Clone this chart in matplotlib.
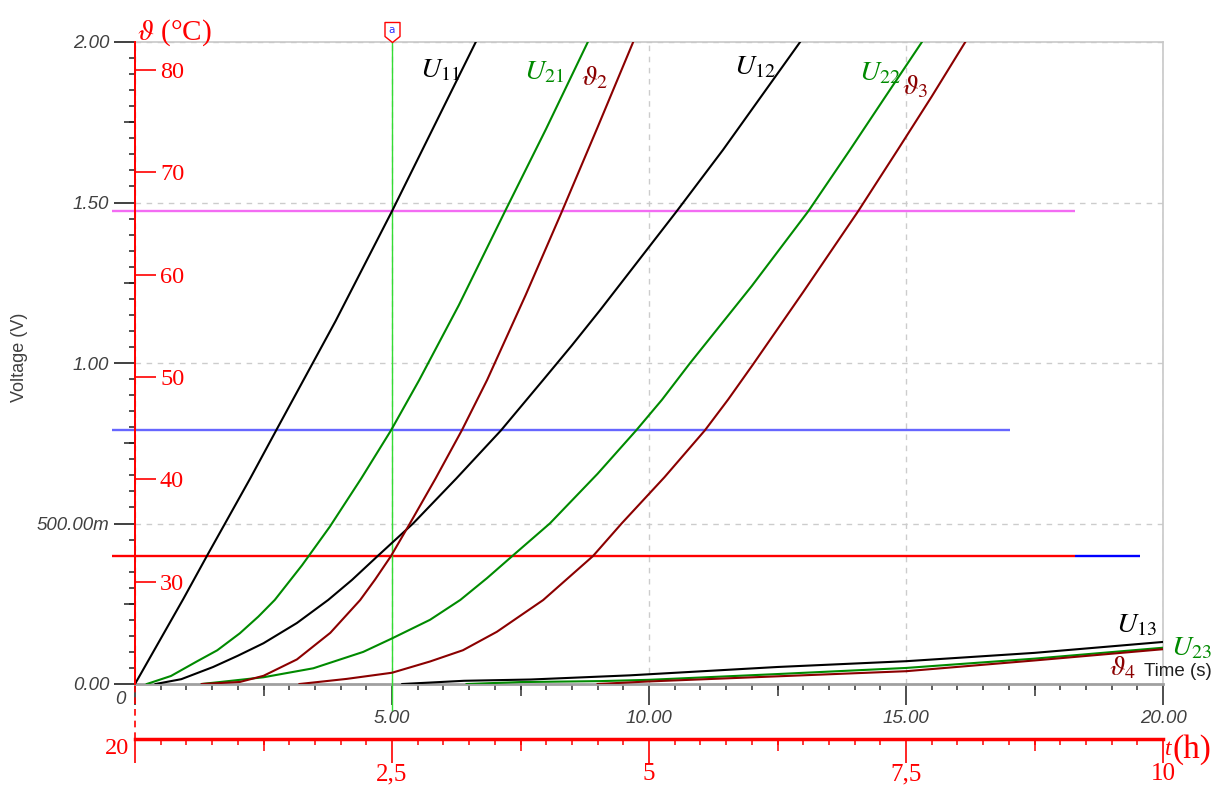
import matplotlib
matplotlib.use("Agg")
import matplotlib.pyplot as plt
import matplotlib.transforms as mtrans
from matplotlib.path import Path
from matplotlib.ticker import FixedLocator, FixedFormatter, MultipleLocator

plt.rcParams['mathtext.fontset'] = 'stix'

# ---------------- data (time in s, voltage in V, temperature in degC) ----------------
t_U11 = [0, 0.94, 1.42, 2.24, 2.78, 3.9, 5.0, 6.63]
v_U11 = [0, 0.265, 0.405, 0.64, 0.80, 1.13, 1.473, 2.0]

t_U21 = [0.23, 0.7, 1.2, 1.6, 2.04, 2.4, 2.72, 3.25, 3.79, 4.4, 4.98, 5.53, 6.3, 7.2, 8.0, 8.81]
v_U21 = [0, 0.025, 0.07, 0.105, 0.158, 0.21, 0.262, 0.37, 0.49, 0.64, 0.79, 0.947, 1.18, 1.473, 1.73, 2.0]

t_th2 = [1.3, 2.04, 2.5, 3.15, 3.8, 4.38, 4.67, 4.98, 5.35, 5.85, 6.36, 6.85, 7.6, 8.3, 9.0, 9.69]
T_th2 = [20, 20.2, 20.8, 22.4, 25.0, 28.2, 30.2, 32.5, 35.7, 40.1, 44.8, 49.7, 58.0, 66.1, 74.4, 82.7]

t_U12 = [0.4, 0.9, 1.52, 2.0, 2.5, 3.15, 3.76, 4.22, 4.73, 5.41, 6.25, 7.12, 7.94, 8.5, 9.05, 9.8, 10.54, 11.44, 12.94]
v_U12 = [0, 0.015, 0.053, 0.088, 0.127, 0.19, 0.262, 0.324, 0.40, 0.5, 0.64, 0.79, 0.947, 1.055, 1.165, 1.32, 1.473, 1.664, 2.0]

t_U22 = [1.3, 2.5, 3.47, 4.44, 5.0, 5.74, 6.33, 6.85, 7.35, 8.07, 9.0, 9.75, 10.25, 10.8, 12.0, 13.1, 13.91, 14.6, 15.31]
v_U22 = [0, 0.021, 0.049, 0.1, 0.142, 0.20, 0.262, 0.33, 0.40, 0.5, 0.655, 0.79, 0.885, 1.0, 1.24, 1.473, 1.664, 1.83, 2.0]

t_th3 = [3.2, 4.12, 5.0, 5.74, 6.38, 7.04, 7.94, 8.91, 9.47, 10.3, 11.09, 11.54, 12.02, 13.0, 14.07, 14.84, 15.5, 16.15]
T_th3 = [20, 20.5, 21.1, 22.2, 23.3, 25.1, 28.2, 32.5, 35.7, 40.2, 44.8, 47.8, 51.2, 58.3, 66.2, 72.2, 77.4, 82.7]

t_U13 = [5.2, 6.4, 7.7, 9.63, 12.5, 15, 17.5, 20]
v_U13 = [0, 0.01, 0.014, 0.027, 0.053, 0.071, 0.097, 0.131]

t_U23 = [6.45, 7.5, 9.05, 10, 12.5, 15, 17.5, 20]
v_U23 = [0, 0.006, 0.009, 0.013, 0.031, 0.05, 0.079, 0.113]

t_th4 = [9.0, 10, 12.5, 15, 17.5, 20]
T_th4 = [20, 20.25, 20.75, 21.25, 22.3, 23.4]

# reference levels (V) and their horizontal extent (s)
level_v = [1.473, 0.791, 0.399]
level_colors = ['#f36cf3', '#6666ff', '#ff0000']
level_start = [-0.45, -0.45, -0.45]
level_end = [18.29, 17.02, 18.29]
tail_v = 0.399
tail_span = [18.29, 19.55]
cursor_t = 5.0

# axes ticks / labels
v_major = [0, 0.5, 1.0, 1.5, 2.0]
v_labels = ['0.00', '500.00m', '1.00', '1.50', '2.00']
v_medium = [0.25, 0.75, 1.25, 1.75]
t_major = [0, 5, 10, 15, 20]
t_labels = ['', '5.00', '10.00', '15.00', '20.00']
t_medium = [2.5, 7.5, 12.5, 17.5]
temp_ticks = [30, 40, 50, 60, 70, 80]
temp_at_0V = 20
volt_at_80C = 1.913
h_major = [0, 2.5, 5, 7.5, 10]
h_labels = ['', '2,5', '5', '7,5', '10']
h_medium = [1.25, 3.75, 6.25, 8.75]

BLACK = '#000000'
GREEN = '#008a00'
DRED = '#8b0000'
GRAYTXT = '#404040'

W, H = 1215, 787
fig = plt.figure(figsize=(W / 100, H / 100), dpi=100)
fig.patch.set_facecolor('white')
ax = fig.add_axes([135 / W, 1 - 684 / H, 1028 / W, 642 / H])
ax.set_xlim(0, 20)
ax.set_ylim(0, 2.0)

for s, c, lw in [('left', 'red', 1.3), ('bottom', '#a0a0a0', 2.0),
                 ('top', '#c8c8c8', 1.2), ('right', '#c8c8c8', 1.2)]:
    ax.spines[s].set_color(c)
    ax.spines[s].set_linewidth(lw)
ax.spines['left'].set_zorder(5)

ax.grid(True, which='major', color='#cccccc', ls=(0, (4, 4)), lw=1.0)

# y axis (voltage)
ax.yaxis.set_major_locator(FixedLocator(v_major))
ax.yaxis.set_major_formatter(FixedFormatter(v_labels))
ax.yaxis.set_minor_locator(MultipleLocator(0.05))
ax.tick_params(axis='y', which='major', length=15, width=1.2, color='#202020',
               pad=3.5, labelsize=13.5, labelcolor=GRAYTXT)
ax.tick_params(axis='y', which='minor', length=4, width=1.1, color='#202020')
for lab in ax.get_yticklabels():
    lab.set_fontstyle('italic')
    lab.set_fontfamily('Liberation Sans')

# x axis (time s)
ax.xaxis.set_major_locator(FixedLocator(t_major))
ax.xaxis.set_major_formatter(FixedFormatter(t_labels))
ax.xaxis.set_minor_locator(MultipleLocator(0.5))
ax.tick_params(axis='x', which='major', length=15, width=1.2, color='#303030',
               pad=4, labelsize=13.5, labelcolor=GRAYTXT)
ax.tick_params(axis='x', which='minor', length=4.5, width=1.1, color='#303030')
for lab in ax.get_xticklabels():
    lab.set_fontstyle('italic')
    lab.set_fontfamily('Liberation Sans')

# medium ticks
sy = ax.secondary_yaxis('left')
sy.set_yticks(v_medium)
sy.tick_params(length=8, width=1.1, color='#202020', labelleft=False)
for sp in sy.spines.values():
    sp.set_visible(False)
sx = ax.secondary_xaxis('bottom')
sx.set_xticks(t_medium)
sx.tick_params(length=8.5, width=1.1, color='#303030', labelbottom=False)
for sp in sx.spines.values():
    sp.set_visible(False)

# bottom red hour axis
loc_h = -55 / 642
fwd = (lambda s: s / 2.0, lambda h: h * 2.0)
hx = ax.secondary_xaxis(loc_h, functions=fwd)
hx.xaxis.set_major_locator(FixedLocator(h_major))
hx.xaxis.set_major_formatter(FixedFormatter(h_labels))
hx.xaxis.set_minor_locator(MultipleLocator(0.25))
hx.spines['bottom'].set_color('red')
hx.spines['bottom'].set_linewidth(2.5)
hx.tick_params(which='major', length=17, width=1.2, color='red', labelcolor='red',
               labelsize=18, pad=0.5)
hx.tick_params(which='minor', length=4.5, width=1.1, color='red')
for lab in hx.get_xticklabels():
    lab.set_fontfamily('Liberation Serif')
hx2 = ax.secondary_xaxis(loc_h, functions=fwd)
hx2.set_xticks(h_medium)
hx2.tick_params(length=8.5, width=1.1, color='red', labelbottom=False)
for sp in hx2.spines.values():
    sp.set_visible(False)
ax.axvline(0, ymin=loc_h, ymax=0, color='red', lw=1.2, ls=(0, (4, 3)), clip_on=False)

# temperature axis
ax_t = ax.twinx()
ax_t.set_ylim(temp_at_0V, temp_at_0V + (80 - temp_at_0V) * 2.0 / volt_at_80C)
for s in ['top', 'bottom', 'left']:
    ax_t.spines[s].set_visible(False)
ax_t.spines['right'].set_position(('axes', 0))
ax_t.spines['right'].set_color('red')
ax_t.spines['right'].set_linewidth(1.3)
ax_t.yaxis.set_major_locator(FixedLocator(temp_ticks))
ax_t.tick_params(axis='y', direction='out', length=15, width=1.2, color='red',
                 labelcolor='red', labelsize=17.5, pad=3)
for lab in ax_t.get_yticklabels():
    lab.set_fontfamily('Liberation Serif')

# reference lines
ax.hlines(level_v, level_start, level_end, colors=level_colors, lw=1.7, clip_on=False, zorder=3)
ax.hlines([tail_v], [tail_span[0]], [tail_span[1]], colors=['#0000ff'], lw=1.7, zorder=3)
ax.axvline(cursor_t, ymin=-26 / 642, ymax=1.006, color='#33dd33', lw=1.0, clip_on=False, zorder=3)

# curves
lw = 1.5
ax.plot(t_U11, v_U11, color=BLACK, lw=lw, zorder=4)
ax.plot(t_U21, v_U21, color=GREEN, lw=lw, zorder=4)
ax.plot(t_U12, v_U12, color=BLACK, lw=lw, zorder=4)
ax.plot(t_U22, v_U22, color=GREEN, lw=lw, zorder=4)
ax.plot(t_U13, v_U13, color=BLACK, lw=lw, zorder=4)
ax.plot(t_U23, v_U23, color=GREEN, lw=lw, zorder=4)
ax_t.plot(t_th2, T_th2, color=DRED, lw=lw)
ax_t.plot(t_th3, T_th3, color=DRED, lw=lw)
ax_t.plot(t_th4, T_th4, color=DRED, lw=lw)
ax_t.set_xlim(0, 20)

# curve labels
labels = [
    (5.54, 1.891, r'$U_{11}$', BLACK), (7.57, 1.882, r'$U_{21}$', GREEN),
    (8.68, 1.866, r'$\vartheta_{2}$', DRED), (11.65, 1.900, r'$U_{12}$', BLACK),
    (14.09, 1.879, r'$U_{22}$', GREEN), (14.92, 1.838, r'$\vartheta_{3}$', DRED),
    (19.09, 0.162, r'$U_{13}$', BLACK), (20.16, 0.090, r'$U_{23}$', GREEN),
    (18.95, 0.028, r'$\vartheta_{4}$', DRED),
]
for x, y, s, c in labels:
    ax.text(x, y, s, color=c, fontsize=20.5, ha='left', va='baseline', zorder=6, clip_on=False)

# cursor marker
mk = Path([(-0.375, 0.5), (0.375, 0.5), (0.375, -0.2), (0, -0.5), (-0.375, -0.2), (-0.375, 0.5)], closed=True)
off = mtrans.offset_copy(ax.transData, fig=fig, y=7.5, units='points')
ax.plot([cursor_t], [2.0], marker=mk, ms=14.4, mfc='white', mec='red', mew=1.0,
        transform=off, clip_on=False, zorder=7)
ax.text(cursor_t, 2.0, 'a', transform=mtrans.offset_copy(ax.transData, fig=fig, y=8.5, units='points'),
        ha='center', va='center', fontsize=7.5, color='#3030ff', zorder=8, clip_on=False)

# figure texts
fig.text(137 / W, 1 - 40 / H, r'$\vartheta$ (°C)', color='red', fontsize=21,
         family='Liberation Serif', ha='left', va='baseline')
fig.text(1212 / W, 1 - 672 / H, 'Time (s)', color='#202020', fontsize=13.5,
         family='Liberation Sans', ha='right', va='center')
fig.text(20 / W, 1 - 357 / H, 'Voltage (V)', color=GRAYTXT, fontsize=13,
         family='Liberation Sans', rotation=90, ha='center', va='center')
fig.text(120 / W, 1 - 699 / H, '0', color=GRAYTXT, fontsize=13.5, style='italic',
         family='Liberation Sans', ha='center', va='center')
fig.text(129 / W, 1 - 748 / H, '20', color='red', fontsize=17.5,
         family='Liberation Serif', ha='right', va='center')
fig.text(1165 / W, 1 - 755 / H, 't', color='red', fontsize=17, style='italic',
         family='Liberation Serif', ha='left', va='baseline')
fig.text(1173 / W, 1 - 758 / H, '(h)', color='red', fontsize=24,
         family='Liberation Serif', ha='left', va='baseline')

fig.savefig('out.png', dpi=100)
